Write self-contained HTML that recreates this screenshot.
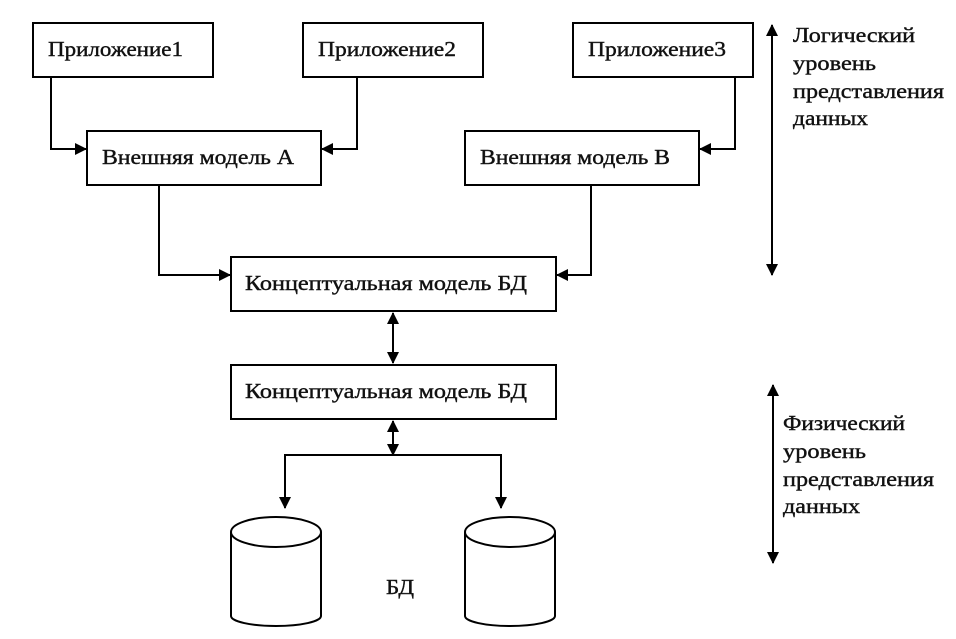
<!DOCTYPE html>
<html><head><meta charset="utf-8"><style>
html,body{margin:0;padding:0;background:#fff;}
svg text{font-family:"Liberation Serif",serif;font-size:21px;fill:#111;stroke:#111;stroke-width:0.4;}
</style></head><body>
<svg width="956" height="634" viewBox="0 0 956 634" xmlns="http://www.w3.org/2000/svg">
<defs>
<marker id="a" markerWidth="12" markerHeight="12" refX="11" refY="6" orient="auto" markerUnits="userSpaceOnUse">
<path d="M0,0 L12,6 L0,12 z" fill="#000"/></marker>
<marker id="as" markerWidth="12" markerHeight="12" refX="1" refY="6" orient="auto" markerUnits="userSpaceOnUse">
<path d="M12,0 L0,6 L12,12 z" fill="#000"/></marker>
</defs>
<g fill="none" stroke="#000" stroke-width="2">
<rect x="33" y="23" width="180" height="54"/>
<rect x="303" y="23" width="180" height="54"/>
<rect x="573" y="23" width="180" height="54"/>
<rect x="87" y="131" width="234" height="54"/>
<rect x="465" y="131" width="234" height="54"/>
<rect x="231" y="257" width="325" height="54"/>
<rect x="231" y="365" width="325" height="54"/>
<polyline points="51,77 51,149 86,149" marker-end="url(#a)"/>
<polyline points="357,77 357,149 322,149" marker-end="url(#a)"/>
<polyline points="735,77 735,149 700,149" marker-end="url(#a)"/>
<polyline points="159,185 159,275 230,275" marker-end="url(#a)"/>
<polyline points="591,185 591,275 557,275" marker-end="url(#a)"/>
<line x1="393" y1="313" x2="393" y2="363" marker-start="url(#as)" marker-end="url(#a)"/>
<line x1="393" y1="421" x2="393" y2="455" marker-start="url(#as)" marker-end="url(#a)"/>
<polyline points="285,508 285,455 501,455 501,508" marker-end="url(#a)"/>
<line x1="285" y1="455" x2="285" y2="508" marker-end="url(#a)"/>
<line x1="772" y1="25" x2="772" y2="275" marker-start="url(#as)" marker-end="url(#a)"/>
<line x1="773" y1="385" x2="773" y2="563" marker-start="url(#as)" marker-end="url(#a)"/>
<path d="M231,532 A45,15 0 0 1 321,532 L321,616 A45,10 0 0 1 231,616 Z"/>
<path d="M231,532 A45,15 0 0 0 321,532"/>
<path d="M465,532 A45,15 0 0 1 555,532 L555,616 A45,10 0 0 1 465,616 Z"/>
<path d="M465,532 A45,15 0 0 0 555,532"/>
</g>
<text x="48" y="56" textLength="135" lengthAdjust="spacingAndGlyphs">Приложение1</text>
<text x="318" y="56" textLength="138" lengthAdjust="spacingAndGlyphs">Приложение2</text>
<text x="588" y="56" textLength="138" lengthAdjust="spacingAndGlyphs">Приложение3</text>
<text x="102" y="164" textLength="192" lengthAdjust="spacingAndGlyphs">Внешняя модель А</text>
<text x="480" y="164" textLength="190" lengthAdjust="spacingAndGlyphs">Внешняя модель В</text>
<text x="245" y="290" textLength="282" lengthAdjust="spacingAndGlyphs">Концептуальная модель БД</text>
<text x="245" y="398" textLength="282" lengthAdjust="spacingAndGlyphs">Концептуальная модель БД</text>
<text x="386" y="594" textLength="28" lengthAdjust="spacingAndGlyphs">БД</text>
<text x="793" y="42" textLength="122" lengthAdjust="spacingAndGlyphs">Логический</text>
<text x="793" y="70" textLength="83" lengthAdjust="spacingAndGlyphs">уровень</text>
<text x="793" y="98" textLength="151" lengthAdjust="spacingAndGlyphs">представления</text>
<text x="793" y="125" textLength="75" lengthAdjust="spacingAndGlyphs">данных</text>
<text x="783" y="430" textLength="122" lengthAdjust="spacingAndGlyphs">Физический</text>
<text x="783" y="458" textLength="83" lengthAdjust="spacingAndGlyphs">уровень</text>
<text x="783" y="486" textLength="151" lengthAdjust="spacingAndGlyphs">представления</text>
<text x="783" y="513" textLength="77" lengthAdjust="spacingAndGlyphs">данных</text>
</svg>
</body></html>
